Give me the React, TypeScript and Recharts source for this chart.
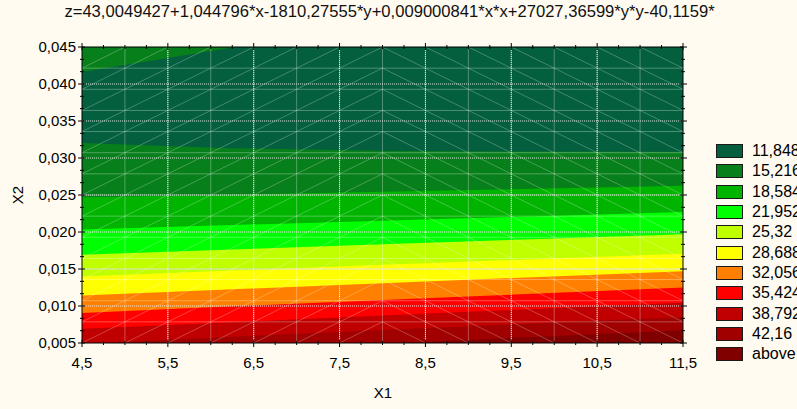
import React from 'react';
import { ComposedChart, Area, XAxis, YAxis, ReferenceLine } from 'recharts';

// X1 positions at which the contour boundaries were read
const x1Values = [4.5, 6.25, 8, 9.75, 11.5];
// X2 value of each contour boundary (lower branch) at x1Values
const lower11848 = [0.03204, 0.03132, 0.03099, 0.03087, 0.03086];
const upper11848 = [0.04162, 0.04494, 0.04786, 0.05059, 0.05319];
const lower15216 = [0.02468, 0.02505, 0.02544, 0.02583, 0.02624];
const lower18584 = [0.02033, 0.02094, 0.02153, 0.02211, 0.02269];
const lower21952 = [0.01691, 0.01763, 0.01833, 0.01902, 0.0197];
const lower2532 = [0.014, 0.01479, 0.01556, 0.01632, 0.01706];
const lower28688 = [0.01141, 0.01226, 0.01308, 0.01389, 0.01468];
const lower32056 = [0.00907, 0.00995, 0.01081, 0.01166, 0.01249];
const lower35424 = [0.00691, 0.00782, 0.00871, 0.00959, 0.01045];
const lower38792 = [0.0049, 0.00583, 0.00675, 0.00765, 0.00853];
const lower4216 = [0.003, 0.00395, 0.00489, 0.00582, 0.00672];

const legendLabels = ['11,848', '15,216', '18,584', '21,952', '25,32', '28,688', '32,056', '35,424', '38,792', '42,16', 'above'];
const bandColors = ['#035F3E', '#077F1A', '#00B400', '#00FF00', '#BFFF00', '#FFFF00', '#FF8000', '#FF0000', '#C00000', '#A00000', '#800000'];

const xTickValues = [4.5, 5.5, 6.5, 7.5, 8.5, 9.5, 10.5, 11.5];
const xTickLabels = ['4,5', '5,5', '6,5', '7,5', '8,5', '9,5', '10,5', '11,5'];
const yTickValues = [0.005, 0.01, 0.015, 0.02, 0.025, 0.03, 0.035, 0.04, 0.045];
const yTickLabels = ['0,005', '0,010', '0,015', '0,020', '0,025', '0,030', '0,035', '0,040', '0,045'];

const titleText = 'z=43,0049427+1,044796*x-1810,27555*y+0,009000841*x*x+27027,36599*y*y-40,1159*';
const xLabel = 'X1';
const yLabel = 'X2';

const X_MIN = 4.5;
const X_MAX = 11.5;
const Y_MIN = 0.005;
const Y_MAX = 0.045;

const FONT = '"Liberation Sans", Arial, sans-serif';

// table for the range areas, painted from the highest level down
const lowerByBand = [lower4216, lower38792, lower35424, lower32056, lower28688, lower2532, lower21952, lower18584, lower15216];
const rows = x1Values.map((x, i) => {
  const r: any = { x, above: [Y_MIN, Y_MAX] };
  lowerByBand.forEach((arr, k) => {
    r['b' + k] = [arr[i], Y_MAX];
  });
  r.inner = [lower11848[i], upper11848[i]];
  return r;
});
// colors: above, 42.16, 38.792 ... 15.216
const paintColors = [bandColors[10], bandColors[9], bandColors[8], bandColors[7], bandColors[6], bandColors[5], bandColors[4], bandColors[3], bandColors[2], bandColors[1]];

// minor ticks
const subdivide = (majors: number[], n: number) => {
  const out: number[] = [];
  for (let i = 0; i < majors.length - 1; i++) {
    for (let k = 0; k < n; k++) out.push(majors[i] + ((majors[i + 1] - majors[i]) * k) / n);
  }
  out.push(majors[majors.length - 1]);
  return out;
};
const xAllTicks = subdivide(xTickValues, 4);
const yAllTicks = subdivide(yTickValues, 3);
const majorIndex = (arr: number[], v: number) => arr.findIndex((m) => Math.abs(m - v) < 1e-9);

// surface mesh
const meshX: number[] = [];
for (let i = 0; i <= 14; i++) meshX.push(X_MIN + ((X_MAX - X_MIN) * i) / 14);
const meshY: number[] = [];
for (let j = 0; j <= 14; j++) meshY.push(Y_MIN + ((Y_MAX - Y_MIN) * j) / 14);

const BottomTick = (p: any) => {
  const { x, y, payload } = p;
  const idx = majorIndex(xTickValues, payload.value);
  const major = idx >= 0;
  return (
    <g>
      <line x1={x} x2={x} y1={y - (major ? 3 : 2)} y2={y + (major ? 4 : 2)} stroke="#000" />
      {major && (
        <text x={x} y={y + 25} textAnchor="middle" fontFamily={FONT} fontSize={15} fill="#000">
          {xTickLabels[idx]}
        </text>
      )}
    </g>
  );
};
const TopTick = (p: any) => {
  const { x, y, payload } = p;
  const major = majorIndex(xTickValues, payload.value) >= 0;
  return <line x1={x} x2={x} y1={y - (major ? 4 : 2)} y2={y + (major ? 3 : 2)} stroke="#000" />;
};
const LeftTick = (p: any) => {
  const { x, y, payload } = p;
  const idx = majorIndex(yTickValues, payload.value);
  const major = idx >= 0;
  return (
    <g>
      <line x1={x - (major ? 4 : 2)} x2={x + (major ? 3 : 2)} y1={y} y2={y} stroke="#000" />
      {major && (
        <text x={x - 6} y={y + 5} textAnchor="end" fontFamily={FONT} fontSize={15} fill="#000">
          {yTickLabels[idx]}
        </text>
      )}
    </g>
  );
};
const RightTick = (p: any) => {
  const { x, y, payload } = p;
  const major = majorIndex(yTickValues, payload.value) >= 0;
  return <line x1={x - (major ? 3 : 2)} x2={x + (major ? 4 : 2)} y1={y} y2={y} stroke="#000" />;
};

export default function App() {
  const meshLines: any[] = [];
  meshX.slice(1, -1).forEach((mx, i) =>
    meshLines.push(<ReferenceLine key={'mx' + i} x={mx} stroke="#ffffff" strokeOpacity={0.3} ifOverflow="visible" />)
  );
  meshY.slice(1, -1).forEach((my, j) =>
    meshLines.push(<ReferenceLine key={'my' + j} y={my} stroke="#ffffff" strokeOpacity={0.3} ifOverflow="visible" />)
  );
  for (let i = 0; i < 14; i++) {
    for (let j = 0; j < 14; j++) {
      const up = meshX[i] < 8 - 1e-9;
      const seg = up
        ? [{ x: meshX[i], y: meshY[j] }, { x: meshX[i + 1], y: meshY[j + 1] }]
        : [{ x: meshX[i], y: meshY[j + 1] }, { x: meshX[i + 1], y: meshY[j] }];
      meshLines.push(
        <ReferenceLine key={'d' + i + '_' + j} segment={seg} stroke="#ffffff" strokeOpacity={0.25} ifOverflow="visible" />
      );
    }
  }
  const dotted: any[] = [];
  xTickValues.slice(1, -1).forEach((v, i) =>
    dotted.push(<ReferenceLine key={'gx' + i} x={v} stroke="#e6e6e6" strokeDasharray="1 1" ifOverflow="visible" />)
  );
  yTickValues.slice(1, -1).forEach((v, i) =>
    dotted.push(<ReferenceLine key={'gy' + i} y={v} stroke="#e6e6e6" strokeDasharray="1 1" ifOverflow="visible" />)
  );

  return (
    <div
      style={{
        position: 'absolute',
        left: 0,
        top: 0,
        width: 797,
        height: 409,
        background: '#FFFBF0',
        overflow: 'hidden',
        fontFamily: FONT,
      }}
    >
      <div
        style={{
          position: 'absolute',
          left: 0,
          width: 779,
          top: 2,
          textAlign: 'center',
          fontSize: 16.6,
          color: '#111',
          whiteSpace: 'nowrap',
        }}
      >
        {titleText}
      </div>
      <ComposedChart width={797} height={409} data={rows} margin={{ top: 46, right: 113, bottom: 0, left: 0 }}>
        <XAxis
          type="number"
          dataKey="x"
          domain={[X_MIN, X_MAX]}
          ticks={xAllTicks}
          interval={0}
          allowDataOverflow
          height={66}
          tickSize={0}
          tickMargin={0}
          tickLine={false}
          axisLine={{ stroke: '#000' }}
          tick={<BottomTick />}
        />
        <XAxis
          xAxisId="top"
          orientation="top"
          type="number"
          dataKey="x"
          domain={[X_MIN, X_MAX]}
          ticks={xAllTicks}
          interval={0}
          allowDataOverflow
          height={1}
          tickSize={0}
          tickMargin={0}
          tickLine={false}
          axisLine={{ stroke: '#000' }}
          tick={<TopTick />}
        />
        <YAxis
          type="number"
          domain={[Y_MIN, Y_MAX]}
          ticks={yAllTicks}
          interval={0}
          allowDataOverflow
          width={82}
          tickSize={0}
          tickMargin={0}
          tickLine={false}
          axisLine={{ stroke: '#000' }}
          tick={<LeftTick />}
        />
        <YAxis
          yAxisId="right"
          orientation="right"
          type="number"
          domain={[Y_MIN, Y_MAX]}
          ticks={yAllTicks}
          interval={0}
          allowDataOverflow
          width={1}
          tickSize={0}
          tickMargin={0}
          tickLine={false}
          axisLine={{ stroke: '#000' }}
          tick={<RightTick />}
        />
        <Area dataKey="above" type="linear" stroke="none" fill={paintColors[0]} fillOpacity={1} isAnimationActive={false} />
        {lowerByBand.map((_, k) => (
          <Area
            key={'b' + k}
            dataKey={'b' + k}
            type="linear"
            stroke="none"
            fill={paintColors[k + 1]}
            fillOpacity={1}
            isAnimationActive={false}
          />
        ))}
        <Area dataKey="inner" type="linear" stroke="none" fill={bandColors[0]} fillOpacity={1} isAnimationActive={false} />
        {meshLines}
        {dotted}
      </ComposedChart>
      <div
        style={{
          position: 'absolute',
          left: 17,
          top: 195,
          transform: 'translate(-50%, -50%) rotate(-90deg)',
          fontSize: 15,
          color: '#000',
        }}
      >
        {yLabel}
      </div>
      <div
        style={{ position: 'absolute', left: 383, top: 392, transform: 'translate(-50%, -50%)', fontSize: 15, color: '#000' }}
      >
        {xLabel}
      </div>
      <div style={{ position: 'absolute', left: 716, top: 141 }}>
        {legendLabels.map((lab, i) => (
          <div key={lab} style={{ display: 'flex', alignItems: 'center', height: 20.3 }}>
            <div
              style={{
                width: 25,
                height: 12,
                background: bandColors[i],
                border: '1px solid #1a1a1a',
                marginRight: 9,
                flex: 'none',
              }}
            />
            <span style={{ fontSize: 16, color: '#000', whiteSpace: 'nowrap', lineHeight: '16px' }}>{lab}</span>
          </div>
        ))}
      </div>
    </div>
  );
}
